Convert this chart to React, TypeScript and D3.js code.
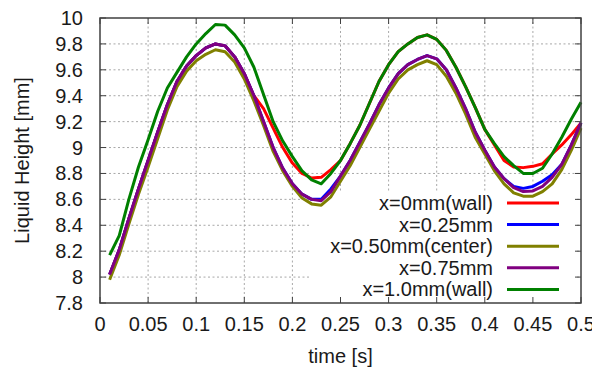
import * as d3 from "d3";

// sample times [s]
const times = [
  0.01, 0.02, 0.03, 0.04, 0.05, 0.06, 0.07, 0.08, 0.09, 0.1,
  0.11, 0.12, 0.13, 0.14, 0.15, 0.16, 0.17, 0.18, 0.19, 0.2,
  0.21, 0.22, 0.23, 0.24, 0.25, 0.26, 0.27, 0.28, 0.29, 0.3,
  0.31, 0.32, 0.33, 0.34, 0.35, 0.36, 0.37, 0.38, 0.39, 0.4,
  0.41, 0.42, 0.43, 0.44, 0.45, 0.46, 0.47, 0.48, 0.49, 0.5,
];

// liquid height [mm] at each position
const wall0 = [
  8.02, 8.21, 8.45, 8.68, 8.9, 9.12, 9.33, 9.51, 9.63, 9.71,
  9.77, 9.8, 9.785, 9.7, 9.57, 9.4, 9.3, 9.15, 9.0, 8.88,
  8.8, 8.765, 8.77, 8.83, 8.9, 9.03, 9.17, 9.34, 9.51, 9.64,
  9.74, 9.8, 9.85, 9.87, 9.835, 9.75, 9.62, 9.47, 9.31, 9.14,
  9.02, 8.9, 8.85, 8.845, 8.855, 8.875, 8.95, 9.02, 9.1, 9.19,
];
const x025 = [
  8.02, 8.21, 8.45, 8.68, 8.9, 9.12, 9.33, 9.51, 9.63, 9.71,
  9.77, 9.8, 9.785, 9.7, 9.57, 9.4, 9.2, 9.0, 8.84, 8.72,
  8.64, 8.6, 8.6, 8.68, 8.78, 8.9, 9.04, 9.18, 9.33, 9.46,
  9.57, 9.64, 9.68, 9.71, 9.685, 9.6, 9.46, 9.3, 9.12, 8.98,
  8.85, 8.76, 8.7, 8.685, 8.7, 8.74, 8.79, 8.87, 9.02, 9.19,
];
const center = [
  7.98, 8.17, 8.41, 8.64, 8.85, 9.07, 9.29, 9.47, 9.59, 9.67,
  9.72, 9.755, 9.74, 9.66, 9.53, 9.36, 9.17, 8.97, 8.82, 8.7,
  8.61, 8.565, 8.555, 8.62, 8.74, 8.86, 9.0, 9.14, 9.28, 9.42,
  9.53, 9.6, 9.64, 9.67, 9.64, 9.55, 9.42, 9.26, 9.08, 8.95,
  8.82, 8.72, 8.65, 8.625, 8.625, 8.66, 8.72, 8.83, 8.98, 9.15,
];
const x075 = [
  8.02, 8.21, 8.45, 8.68, 8.9, 9.12, 9.33, 9.51, 9.63, 9.71,
  9.77, 9.8, 9.785, 9.7, 9.57, 9.4, 9.2, 9.0, 8.84, 8.72,
  8.64, 8.6, 8.59, 8.66, 8.78, 8.9, 9.04, 9.18, 9.33, 9.46,
  9.57, 9.64, 9.68, 9.71, 9.685, 9.6, 9.46, 9.3, 9.12, 8.98,
  8.85, 8.76, 8.69, 8.66, 8.665, 8.7, 8.77, 8.87, 9.02, 9.19,
];
const wall1 = [
  8.17, 8.32, 8.6, 8.85, 9.06, 9.28, 9.46, 9.58, 9.7, 9.8,
  9.88, 9.95, 9.945, 9.87, 9.77, 9.62, 9.41, 9.2, 9.05, 8.93,
  8.82, 8.75, 8.72, 8.8, 8.9, 9.03, 9.17, 9.34, 9.51, 9.64,
  9.74, 9.8, 9.85, 9.87, 9.835, 9.75, 9.62, 9.47, 9.31, 9.14,
  9.03, 8.93, 8.86, 8.8, 8.8, 8.84, 8.95, 9.08, 9.22, 9.35,
];

const seriesNames = ["x=0mm(wall)", "x=0.25mm", "x=0.50mm(center)", "x=0.75mm", "x=1.0mm(wall)"];
const seriesColors = ["#ff0000", "#0000ff", "#808000", "#800080", "#008000"];
const seriesValues = [wall0, x025, center, x075, wall1];

const xTicks = [0, 0.05, 0.1, 0.15, 0.2, 0.25, 0.3, 0.35, 0.4, 0.45, 0.5];
const yTicks = [7.8, 8, 8.2, 8.4, 8.6, 8.8, 9, 9.2, 9.4, 9.6, 9.8, 10];

const width = 592;
const height = 367;
const marginLeft = 100;
const marginRight = 11;
const marginTop = 18;
const marginBottom = 64;
const font = "'Liberation Sans', Arial, sans-serif";
const fontSize = 20;

export default function App() {
  const x = d3.scaleLinear().domain([0, 0.5]).range([marginLeft, width - marginRight]);
  const y = d3.scaleLinear().domain([7.8, 10]).range([height - marginBottom, marginTop]);

  const line = d3
    .line<number>()
    .x((_, i) => x(times[i]))
    .y((d) => y(d));

  const x0 = x(0);
  const x1 = x(0.5);
  const y0 = y(7.8);
  const y1 = y(10);
  const tick = 6;

  // legend geometry
  const legTextX = 493;
  const legLineX0 = 507;
  const legLineX1 = 559;
  const legRow0 = 203;
  const legStep = 21.6;

  return (
    <svg
      width={width}
      height={height}
      style={{ position: "absolute", left: 0, top: 0, background: "#fff" }}
      fontFamily={font}
    >
      {/* grid */}
      <g stroke="#a8a8a8" strokeWidth={1} strokeDasharray="2,2.5">
        {xTicks.slice(1, -1).map((t) => (
          <line key={"gx" + t} x1={x(t)} x2={x(t)} y1={y0} y2={y1} />
        ))}
        {yTicks.slice(1, -1).map((t) => (
          <line key={"gy" + t} x1={x0} x2={x1} y1={y(t)} y2={y(t)} />
        ))}
      </g>

      {/* legend box (opaque, under the curves) */}
      <rect x={311} y={191} width={264} height={111} fill="#fff" />

      {/* curves */}
      <g fill="none" strokeWidth={3} strokeLinejoin="round">
        {seriesValues.map((vals, i) => (
          <path key={seriesNames[i]} d={line(vals) ?? ""} stroke={seriesColors[i]} />
        ))}
      </g>

      {seriesNames.map((name, i) => (
        <g key={"leg" + name}>
          <text
            x={legTextX}
            y={legRow0 + i * legStep}
            dy="0.35em"
            textAnchor="end"
            fontSize={fontSize}
            fill="#1a1a1a"
          >
            {name}
          </text>
          <line
            x1={legLineX0}
            x2={legLineX1}
            y1={legRow0 + i * legStep}
            y2={legRow0 + i * legStep}
            stroke={seriesColors[i]}
            strokeWidth={3}
          />
        </g>
      ))}

      {/* ticks */}
      <g stroke="#404040" strokeWidth={1}>
        {xTicks.map((t) => (
          <g key={"tx" + t}>
            <line x1={x(t)} x2={x(t)} y1={y0} y2={y0 - tick} />
            <line x1={x(t)} x2={x(t)} y1={y1} y2={y1 + tick} />
          </g>
        ))}
        {yTicks.map((t) => (
          <g key={"ty" + t}>
            <line x1={x0} x2={x0 + tick} y1={y(t)} y2={y(t)} />
            <line x1={x1} x2={x1 - tick} y1={y(t)} y2={y(t)} />
          </g>
        ))}
      </g>

      {/* frame */}
      <rect x={x0} y={y1} width={x1 - x0} height={y0 - y1} fill="none" stroke="#404040" strokeWidth={1.5} />

      {/* tick labels */}
      <g fontSize={fontSize} fill="#1a1a1a">
        {xTicks.map((t) => (
          <text key={"lx" + t} x={x(t)} y={y0 + 21} dy="0.35em" textAnchor="middle">
            {String(t)}
          </text>
        ))}
        {yTicks.map((t) => (
          <text key={"ly" + t} x={x0 - 17} y={y(t)} dy="0.35em" textAnchor="end">
            {String(t)}
          </text>
        ))}
      </g>

      {/* axis titles */}
      <text x={(x0 + x1) / 2} y={356} dy="0.35em" textAnchor="middle" fontSize={fontSize} fill="#1a1a1a">
        time [s]
      </text>
      <text
        transform={`translate(22,${(y0 + y1) / 2}) rotate(-90)`}
        dy="0.35em"
        textAnchor="middle"
        fontSize={fontSize}
        fill="#1a1a1a"
      >
        Liquid Height [mm]
      </text>
    </svg>
  );
}
